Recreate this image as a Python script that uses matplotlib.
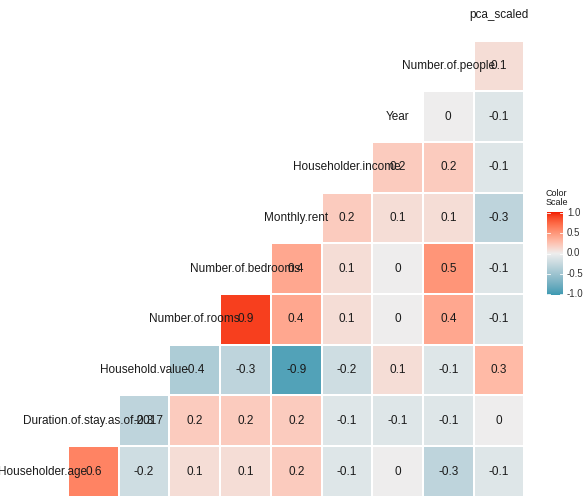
import numpy as np
import matplotlib
matplotlib.use("Agg")
import matplotlib.pyplot as plt
from matplotlib.colors import ListedColormap, Normalize, to_rgb

plt.rcParams['font.family'] = ['Liberation Sans', 'DejaVu Sans']

variables = [
    "Householder.age",
    "Duration.of.stay.as.of.2017",
    "Household.value",
    "Number.of.rooms",
    "Number.of.bedrooms",
    "Monthly.rent",
    "Householder.income",
    "Year",
    "Number.of.people",
    "pca_scaled",
]

# correlations of each variable with the variables that follow it
corr_age = [0.6, -0.2, 0.1, 0.1, 0.2, -0.1, 0.0, -0.3, -0.1]
corr_duration = [-0.3, 0.2, 0.2, 0.2, -0.1, -0.1, -0.1, 0.0]
corr_value = [-0.4, -0.3, -0.9, -0.2, 0.1, -0.1, 0.3]
corr_rooms = [0.9, 0.4, 0.1, 0.0, 0.4, -0.1]
corr_bedrooms = [0.4, 0.1, 0.0, 0.5, -0.1]
corr_rent = [0.2, 0.1, 0.1, -0.3]
corr_income = [0.2, 0.2, -0.1]
corr_year = [0.0, -0.1]
corr_people = [0.1]

rows = [corr_age, corr_duration, corr_value, corr_rooms, corr_bedrooms,
        corr_rent, corr_income, corr_year, corr_people]

legend_ticks = [1.0, 0.5, 0.0, -0.5, -1.0]

n = len(variables)
mat = np.full((n, n), np.nan)
for i, r in enumerate(rows):
    for k, v in enumerate(r):
        mat[i, i + 1 + k] = v


# diverging palette interpolated in CIELAB space
def srgb_to_lab(c):
    c = np.asarray(c, float)
    lin = np.where(c <= 0.04045, c / 12.92, ((c + 0.055) / 1.055) ** 2.4)
    M = np.array([[0.4124, 0.3576, 0.1805],
                  [0.2126, 0.7152, 0.0722],
                  [0.0193, 0.1192, 0.9505]])
    xyz = M @ lin / np.array([0.95047, 1.0, 1.08883])
    f = np.where(xyz > 0.008856, np.cbrt(xyz), 7.787 * xyz + 16 / 116)
    return np.array([116 * f[1] - 16, 500 * (f[0] - f[1]), 200 * (f[1] - f[2])])


def lab_to_srgb(lab):
    L, a, b = lab
    fy = (L + 16) / 116
    fx = fy + a / 500
    fz = fy - b / 200
    f = np.array([fx, fy, fz])
    xyz = np.where(f ** 3 > 0.008856, f ** 3, (f - 16 / 116) / 7.787)
    xyz = xyz * np.array([0.95047, 1.0, 1.08883])
    Minv = np.array([[3.2406, -1.5372, -0.4986],
                     [-0.9689, 1.8758, 0.0415],
                     [0.0557, -0.2040, 1.0570]])
    lin = Minv @ xyz
    lin = np.clip(lin, 0, 1)
    c = np.where(lin <= 0.0031308, 12.92 * lin,
                 1.055 * lin ** (1 / 2.4) - 0.055)
    return np.clip(c, 0, 1)


low, mid, high = (srgb_to_lab(to_rgb(h)) for h in ("#3B9AB2", "#EEEEEE", "#F21A00"))
colors = []
for t in np.linspace(-1, 1, 256):
    if t < 0:
        lab = mid + (low - mid) * (-t)
    else:
        lab = mid + (high - mid) * t
    colors.append(lab_to_srgb(lab))
cmap = ListedColormap(colors)
norm = Normalize(-1, 1)

fig = plt.figure(figsize=(5.83, 4.96), dpi=100)
ax = fig.add_axes([0, 0, 1, 1])
ax.set_xlim(0.158, 11.657)
ax.set_ylim(0.517, 10.30)
ax.axis("off")

edges = np.arange(n + 1) + 0.5
ax.pcolormesh(edges, edges, np.ma.masked_invalid(mat), cmap=cmap, norm=norm,
              edgecolors="white", linewidth=0.3)


def fmt(v):
    if abs(v) < 1e-9:
        return "0"
    return f"{v:.1f}"


for i in range(n):
    for j in range(n):
        if not np.isnan(mat[i, j]):
            ax.text(j + 1, i + 1, fmt(mat[i, j]), ha="center", va="center",
                    fontsize=8.5, color="#1a1a1a")

for i, name in enumerate(variables):
    ax.text(i + 1, i + 1, name, ha="center", va="center",
            fontsize=8.5, color="#1a1a1a")

# colour legend
cax = fig.add_axes([547 / 583, 1 - 295 / 496, 16 / 583, 83 / 496])
grad = np.linspace(-1, 1, 256).reshape(-1, 1)
cax.imshow(grad, cmap=cmap, norm=norm, aspect="auto", origin="lower",
           extent=[0, 1, -1.03, 1.03])
cax.set_xlim(0, 1)
cax.set_ylim(-1.03, 1.03)
cax.axis("off")
for t in legend_ticks:
    cax.plot([0, 0.2], [t, t], color="white", lw=0.6)
    cax.plot([0.8, 1], [t, t], color="white", lw=0.6)
    cax.text(1.25, t, f"{t:.1f}", ha="left", va="center",
             fontsize=7, color="#333333", clip_on=False)
fig.text(546 / 583, 1 - 198 / 496, "Color\nScale", ha="left", va="center",
         fontsize=6.5, color="#1a1a1a", linespacing=0.95)

fig.savefig("out.png", dpi=100)
